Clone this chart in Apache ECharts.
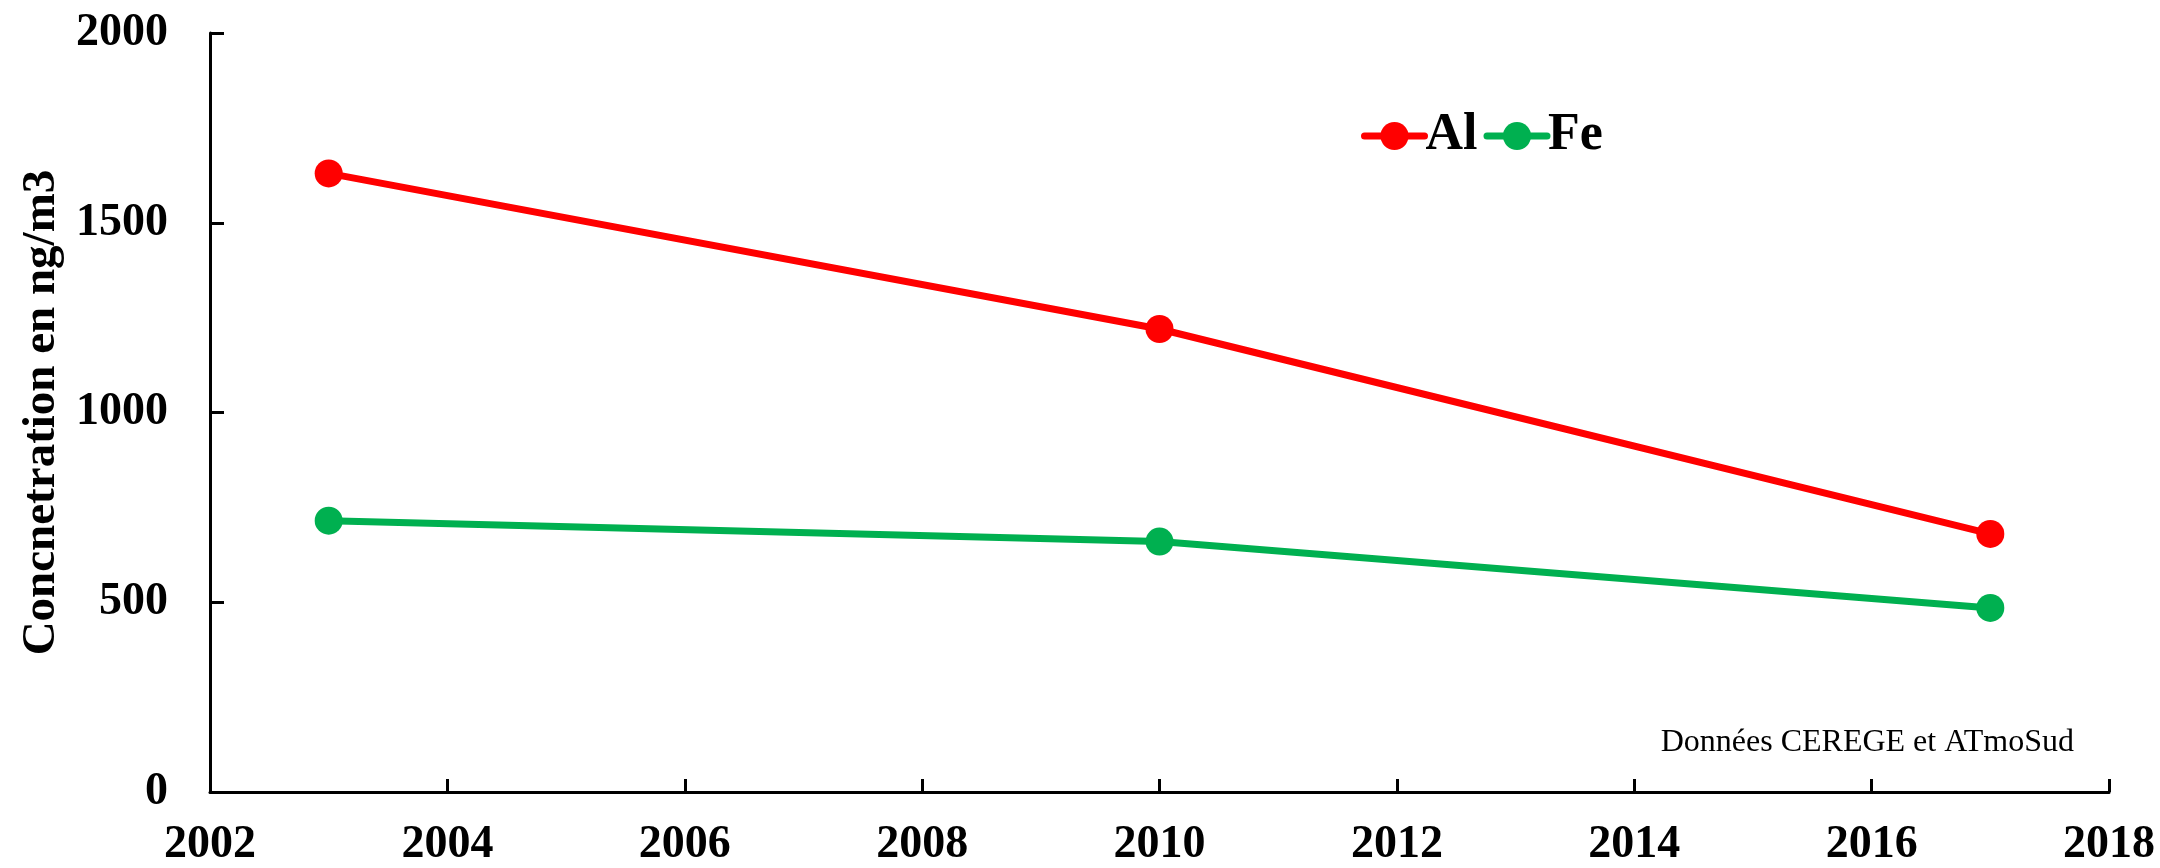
<!DOCTYPE html>
<html>
<head>
<meta charset="utf-8">
<script src="https://cdn.jsdelivr.net/npm/echarts@6/dist/echarts.min.js"></script>
<style>
  html, body { margin: 0; padding: 0; background: #fff; }
  #chart { width: 2160px; height: 868px; }
</style>
</head>
<body>
<div id="chart"></div>
<script>
// données
var years = [2003, 2010, 2017];
var alValues = [1630, 1220, 680];
var feValues = [715, 660, 485];
var seriesNames = ['Al', 'Fe'];
var sourceText = 'Données CEREGE et ATmoSud';

var font = '"Liberation Serif", "Times New Roman", serif';

function toPairs(xs, ys) {
  return xs.map(function (x, i) { return [x, ys[i]]; });
}

var chart = echarts.init(document.getElementById('chart'));

var option = {
  backgroundColor: '#fff',
  animation: false,
  grid: {
    left: 210,
    right: 51,
    top: 33,
    bottom: 76
  },
  legend: {
    data: seriesNames,
    left: 1356,
    top: 105,
    itemWidth: 60,
    itemHeight: 35,
    itemGap: 6,
    lineStyle: { width: 7, cap: 'round' },
    textStyle: {
      fontFamily: font,
      fontWeight: 'bold',
      fontSize: 52,
      color: '#000',
      padding: [0, 0, 0, -4]
    }
  },
  xAxis: {
    type: 'value',
    min: 2002,
    max: 2018,
    interval: 2,
    axisLine: { lineStyle: { color: '#000', width: 3 } },
    axisTick: { inside: true, length: 13, lineStyle: { color: '#000', width: 3 } },
    splitLine: { show: false },
    axisLabel: {
      margin: 30,
      formatter: function (v) { return String(v); },
      fontFamily: font,
      fontWeight: 'bold',
      fontSize: 46,
      color: '#000'
    }
  },
  yAxis: {
    type: 'value',
    min: 0,
    max: 2000,
    interval: 500,
    name: 'Concnetration en ng/m3',
    nameLocation: 'middle',
    nameRotate: 90,
    nameGap: 142,
    nameTextStyle: {
      fontFamily: font,
      fontWeight: 'bold',
      fontSize: 47,
      color: '#000'
    },
    axisLine: { show: true, lineStyle: { color: '#000', width: 3 } },
    axisTick: { show: true, inside: true, length: 14, lineStyle: { color: '#000', width: 3 } },
    splitLine: { show: false },
    axisLabel: {
      margin: 42,
      formatter: function (v) { return String(v); },
      fontFamily: font,
      fontWeight: 'bold',
      fontSize: 46,
      color: '#000'
    }
  },
  graphic: [{
    type: 'text',
    right: 86,
    top: 727,
    style: {
      text: sourceText,
      fontFamily: font,
      fontSize: 32,
      fill: '#000'
    }
  }],
  series: [
    {
      name: 'Al',
      type: 'line',
      data: toPairs(years, alValues),
      symbol: 'circle',
      symbolSize: 28,
      color: '#FF0000',
      lineStyle: { width: 7, color: '#FF0000' },
      itemStyle: { color: '#FF0000' }
    },
    {
      name: 'Fe',
      type: 'line',
      data: toPairs(years, feValues),
      symbol: 'circle',
      symbolSize: 28,
      color: '#00B050',
      lineStyle: { width: 7, color: '#00B050' },
      itemStyle: { color: '#00B050' }
    }
  ]
};

option && chart.setOption(option);
</script>
</body>
</html>
